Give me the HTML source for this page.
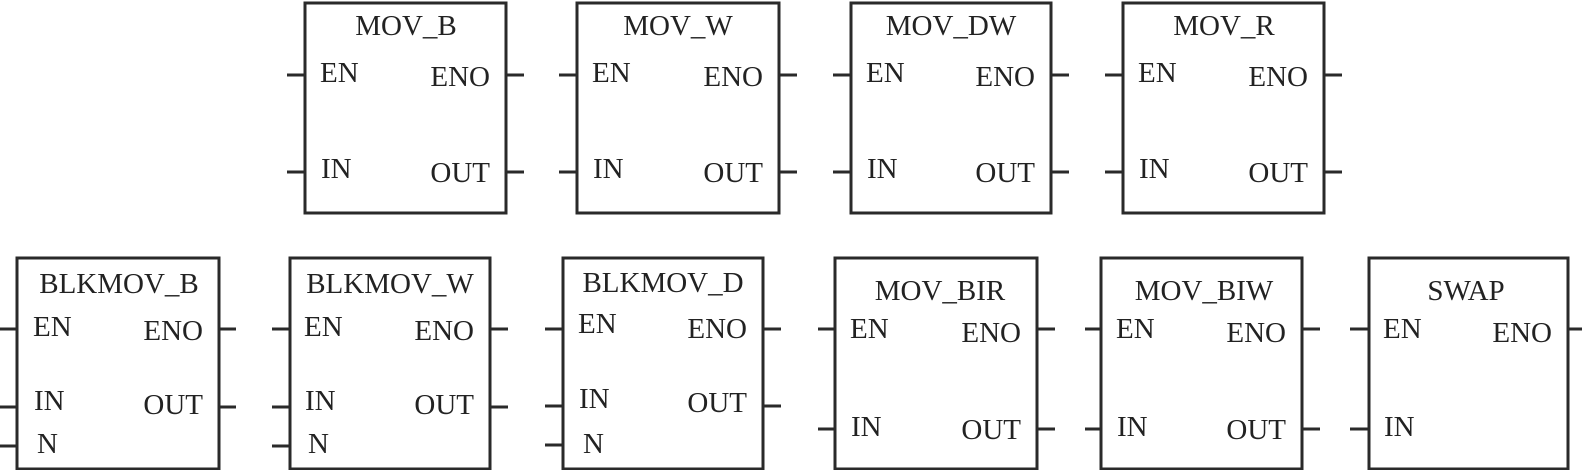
<!DOCTYPE html>
<html><head><meta charset="utf-8"><style>
html,body{margin:0;padding:0;background:#fff;}
svg{display:block;}
text{font-family:"Liberation Serif",serif;font-size:29px;fill:#222;}
</style></head><body>
<svg width="1582" height="470" viewBox="0 0 1582 470" xmlns="http://www.w3.org/2000/svg">
<g stroke="#2a2a2a" stroke-width="3" fill="none">
<path d="M305,3 H506 V213 H305 Z"/>
<path d="M287,75 H305 M287,172 H305 M506,75 H524 M506,172 H524"/>
<path d="M577,3 H779 V213 H577 Z"/>
<path d="M559,75 H577 M559,172 H577 M779,75 H797 M779,172 H797"/>
<path d="M851,3 H1051 V213 H851 Z"/>
<path d="M833,75 H851 M833,172 H851 M1051,75 H1069 M1051,172 H1069"/>
<path d="M1123,3 H1324 V213 H1123 Z"/>
<path d="M1105,75 H1123 M1105,172 H1123 M1324,75 H1342 M1324,172 H1342"/>
<path d="M17,258 H219 V469 H17 Z"/>
<path d="M0,329 H17 M0,407 H17 M0,446 H17 M219,329 H236 M219,407 H236"/>
<path d="M290,258 H490 V469 H290 Z"/>
<path d="M272,329 H290 M272,407 H290 M272,446 H290 M490,329 H508 M490,407 H508"/>
<path d="M563,258 H763 V469 H563 Z"/>
<path d="M545,329 H563 M545,406 H563 M545,445 H563 M763,329 H781 M763,406 H781"/>
<path d="M835,258 H1037 V469 H835 Z"/>
<path d="M818,329 H835 M818,429 H835 M1037,329 H1055 M1037,429 H1055"/>
<path d="M1101,258 H1302 V469 H1101 Z"/>
<path d="M1085,329 H1101 M1085,429 H1101 M1302,329 H1320 M1302,429 H1320"/>
<path d="M1369,258 H1568 V469 H1369 Z"/>
<path d="M1350,329 H1369 M1350,429 H1369 M1568,329 H1582"/>
</g>
<text x="406" y="35" text-anchor="middle">MOV_B</text>
<text x="320" y="82">EN</text><text x="490" y="86" text-anchor="end">ENO</text>
<text x="321" y="178">IN</text><text x="490" y="182" text-anchor="end">OUT</text>

<text x="678" y="35" text-anchor="middle">MOV_W</text>
<text x="592" y="82">EN</text><text x="763" y="86" text-anchor="end">ENO</text>
<text x="593" y="178">IN</text><text x="763" y="182" text-anchor="end">OUT</text>

<text x="951" y="35" text-anchor="middle">MOV_DW</text>
<text x="866" y="82">EN</text><text x="1035" y="86" text-anchor="end">ENO</text>
<text x="867" y="178">IN</text><text x="1035" y="182" text-anchor="end">OUT</text>

<text x="1224" y="35" text-anchor="middle">MOV_R</text>
<text x="1138" y="82">EN</text><text x="1308" y="86" text-anchor="end">ENO</text>
<text x="1139" y="178">IN</text><text x="1308" y="182" text-anchor="end">OUT</text>

<text x="119" y="293" text-anchor="middle">BLKMOV_B</text>
<text x="33" y="336">EN</text><text x="203" y="340" text-anchor="end">ENO</text>
<text x="34" y="410">IN</text><text x="203" y="414" text-anchor="end">OUT</text>
<text x="37" y="453">N</text>

<text x="390" y="293" text-anchor="middle">BLKMOV_W</text>
<text x="304" y="336">EN</text><text x="474" y="340" text-anchor="end">ENO</text>
<text x="305" y="410">IN</text><text x="474" y="414" text-anchor="end">OUT</text>
<text x="308" y="453">N</text>

<text x="663" y="292" text-anchor="middle">BLKMOV_D</text>
<text x="578" y="333">EN</text><text x="747" y="338" text-anchor="end">ENO</text>
<text x="579" y="408">IN</text><text x="747" y="412" text-anchor="end">OUT</text>
<text x="583" y="453">N</text>

<text x="940" y="300" text-anchor="middle">MOV_BIR</text>
<text x="850" y="338">EN</text><text x="1021" y="342" text-anchor="end">ENO</text>
<text x="851" y="436">IN</text><text x="1021" y="439" text-anchor="end">OUT</text>

<text x="1204" y="300" text-anchor="middle">MOV_BIW</text>
<text x="1116" y="338">EN</text><text x="1286" y="342" text-anchor="end">ENO</text>
<text x="1117" y="436">IN</text><text x="1286" y="439" text-anchor="end">OUT</text>

<text x="1466" y="300" text-anchor="middle">SWAP</text>
<text x="1383" y="338">EN</text><text x="1552" y="342" text-anchor="end">ENO</text>
<text x="1384" y="436">IN</text>
</svg>
</body></html>
